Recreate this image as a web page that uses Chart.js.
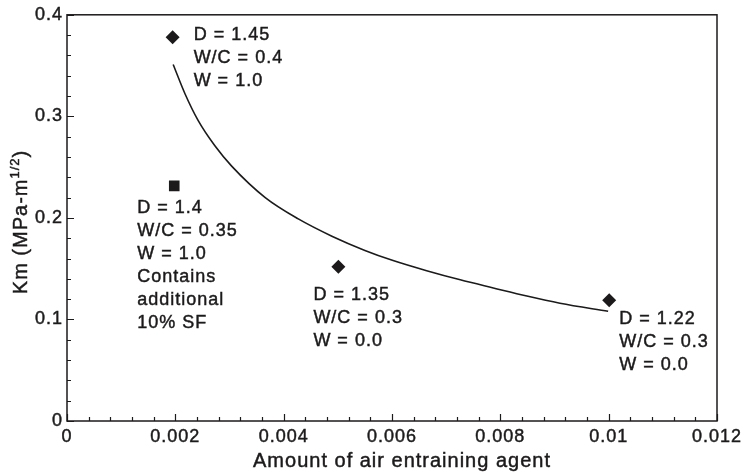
<!DOCTYPE html>
<html>
<head>
<meta charset="utf-8">
<script src="https://cdn.jsdelivr.net/npm/chart.js@4/dist/chart.umd.min.js"></script>
<style>
  html, body { margin: 0; padding: 0; background: #ffffff; }
  #wrap { width: 745px; height: 474px; position: relative; }
</style>
</head>
<body>
<div id="wrap"><canvas id="c" width="745" height="474"></canvas></div>
<script>
// ---------- data ----------
const xTickValues = [0, 0.002, 0.004, 0.006, 0.008, 0.01, 0.012];
const xTickLabels = ["0", "0.002", "0.004", "0.006", "0.008", "0.01", "0.012"];
const yTickValues = [0, 0.1, 0.2, 0.3, 0.4];
const yTickLabels = ["0", "0.1", "0.2", "0.3", "0.4"];

const xTitle = "Amount of air entraining agent";
const yTitleMain = "Km (MPa-m";
const yTitleSup = "1/2";
const yTitleEnd = ")";

// diamond markers
const diamondX = [0.00195, 0.00501, 0.01001];
const diamondY = [0.378, 0.152, 0.119];
// square marker
const squareX = [0.00198];
const squareY = [0.2315];

// fitted curve
const curveX = [0.00196, 0.00218, 0.00242, 0.00273, 0.00304, 0.00366, 0.00427, 0.00489, 0.00550, 0.00602, 0.00664, 0.00726, 0.00787, 0.00849, 0.00910, 0.00999];
const curveY = [0.351, 0.322, 0.296, 0.271, 0.251, 0.220, 0.199, 0.182, 0.168, 0.158, 0.148, 0.139, 0.131, 0.123, 0.116, 0.108];

// annotation texts
const labelDiamond1 = ["D = 1.45", "W/C = 0.4", "W = 1.0"];
const labelDiamond2 = ["D = 1.35", "W/C = 0.3", "W = 0.0"];
const labelDiamond3 = ["D = 1.22", "W/C = 0.3", "W = 0.0"];
const labelSquare = ["D = 1.4", "W/C = 0.35", "W = 1.0", "Contains", "additional", "10% SF"];

// ---------- presentation ----------
const INK = "#1c1a1b";
const FONT = "'Liberation Sans', Arial, Helvetica, sans-serif";

const annotations = [
  { ds: 0, idx: 0, lines: labelDiamond1, dx: 21, dy: 3 },
  { ds: 0, idx: 1, lines: labelDiamond2, dx: -25, dy: 33 },
  { ds: 0, idx: 2, lines: labelDiamond3, dx: 10, dy: 24 },
  { ds: 1, idx: 0, lines: labelSquare, dx: -37, dy: 27 }
];

function boldText(ctx, t, x, y) {
  ctx.fillText(t, x, y);
  ctx.strokeText(t, x, y);
}

const framePlugin = {
  id: 'frameAndText',
  beforeDraw(chart) {
    chart.ctx.letterSpacing = '1px';
  },
  afterDraw(chart) {
    const ctx = chart.ctx;
    const a = chart.chartArea;
    const xs = chart.scales.x, ys = chart.scales.y;
    ctx.save();
    ctx.letterSpacing = '1px';
    ctx.strokeStyle = INK;
    ctx.lineWidth = 1.5;
    ctx.strokeRect(a.left, a.top, a.right - a.left, a.bottom - a.top);
    // inward ticks
    ctx.lineWidth = 1.2;
    ctx.beginPath();
    for (let k = 0; k <= 30; k++) {
      const px = Math.round(xs.getPixelForValue(k * 0.0004)) + 0.5;
      const len = (k % 5 === 0) ? 7 : 4;
      ctx.moveTo(px, a.bottom);
      ctx.lineTo(px, a.bottom - len);
    }
    for (let k = 0; k <= 20; k++) {
      const py = Math.round(ys.getPixelForValue(k * 0.02)) + 0.5;
      const len = (k % 5 === 0) ? 7 : 4;
      ctx.moveTo(a.left, py);
      ctx.lineTo(a.left + len, py);
    }
    ctx.stroke();

    // annotations
    ctx.fillStyle = INK;
    ctx.strokeStyle = INK;
    ctx.lineWidth = 0.45;
    ctx.font = "18px " + FONT;
    ctx.textAlign = 'left';
    ctx.textBaseline = 'alphabetic';
    annotations.forEach(an => {
      const el = chart.getDatasetMeta(an.ds).data[an.idx];
      an.lines.forEach((t, i) => {
        boldText(ctx, t, el.x + an.dx, el.y + an.dy + i * 23);
      });
    });

    // x title
    ctx.font = "20px " + FONT;
    ctx.textAlign = 'center';
    boldText(ctx, xTitle, 402, 467);

    // y title (rotated)
    ctx.translate(27, 222);
    ctx.rotate(-Math.PI / 2);
    ctx.textAlign = 'left';
    ctx.font = "20px " + FONT;
    const w1 = ctx.measureText(yTitleMain).width;
    const w3 = ctx.measureText(yTitleEnd).width;
    ctx.font = "13px " + FONT;
    const w2 = ctx.measureText(yTitleSup).width;
    let x0 = -(w1 + w2 + w3) / 2;
    ctx.font = "20px " + FONT;
    boldText(ctx, yTitleMain, x0, 0);
    ctx.font = "13px " + FONT;
    boldText(ctx, yTitleSup, x0 + w1, -8);
    ctx.font = "20px " + FONT;
    boldText(ctx, yTitleEnd, x0 + w1 + w2, 0);
    ctx.restore();
  }
};

const toPts = (xs, ys) => xs.map((x, i) => ({ x: x, y: ys[i] }));

new Chart(document.getElementById('c'), {
  type: 'scatter',
  data: {
    datasets: [
      {
        data: toPts(diamondX, diamondY),
        pointStyle: 'rectRot', pointRadius: 7, pointHoverRadius: 7,
        backgroundColor: INK, borderColor: INK, borderWidth: 0, showLine: false
      },
      {
        data: toPts(squareX, squareY),
        pointStyle: 'rect', pointRadius: 7.5, pointHoverRadius: 7.5,
        backgroundColor: INK, borderColor: INK, borderWidth: 0, showLine: false
      },
      {
        data: toPts(curveX, curveY),
        showLine: true, pointRadius: 0, borderColor: INK, borderWidth: 1.6,
        cubicInterpolationMode: 'monotone', fill: false
      }
    ]
  },
  options: {
    responsive: false,
    animation: false,
    events: [],
    layout: { padding: { top: 14, right: 28, left: 0, bottom: 0 } },
    plugins: { legend: { display: false }, tooltip: { enabled: false } },
    scales: {
      x: {
        type: 'linear', min: 0, max: 0.012,
        grid: { display: false, drawTicks: false },
        border: { display: false },
        afterBuildTicks: s => { s.ticks = xTickValues.map(v => ({ value: v })); },
        afterFit: s => { s.height = 53; },
        ticks: {
          padding: 5, color: INK, maxRotation: 0, autoSkip: false,
          textStrokeColor: INK, textStrokeWidth: 0.45,
          font: { family: FONT, size: 18 },
          callback: (v, i) => xTickLabels[i]
        }
      },
      y: {
        type: 'linear', min: 0, max: 0.4,
        grid: { display: false, drawTicks: false },
        border: { display: false },
        afterBuildTicks: s => { s.ticks = yTickValues.map(v => ({ value: v })); },
        afterFit: s => { s.width = 67; },
        ticks: {
          padding: 4, color: INK, autoSkip: false,
          textStrokeColor: INK, textStrokeWidth: 0.45,
          font: { family: FONT, size: 18 },
          callback: (v, i) => yTickLabels[i]
        }
      }
    }
  },
  plugins: [framePlugin]
});
</script>
</body>
</html>
